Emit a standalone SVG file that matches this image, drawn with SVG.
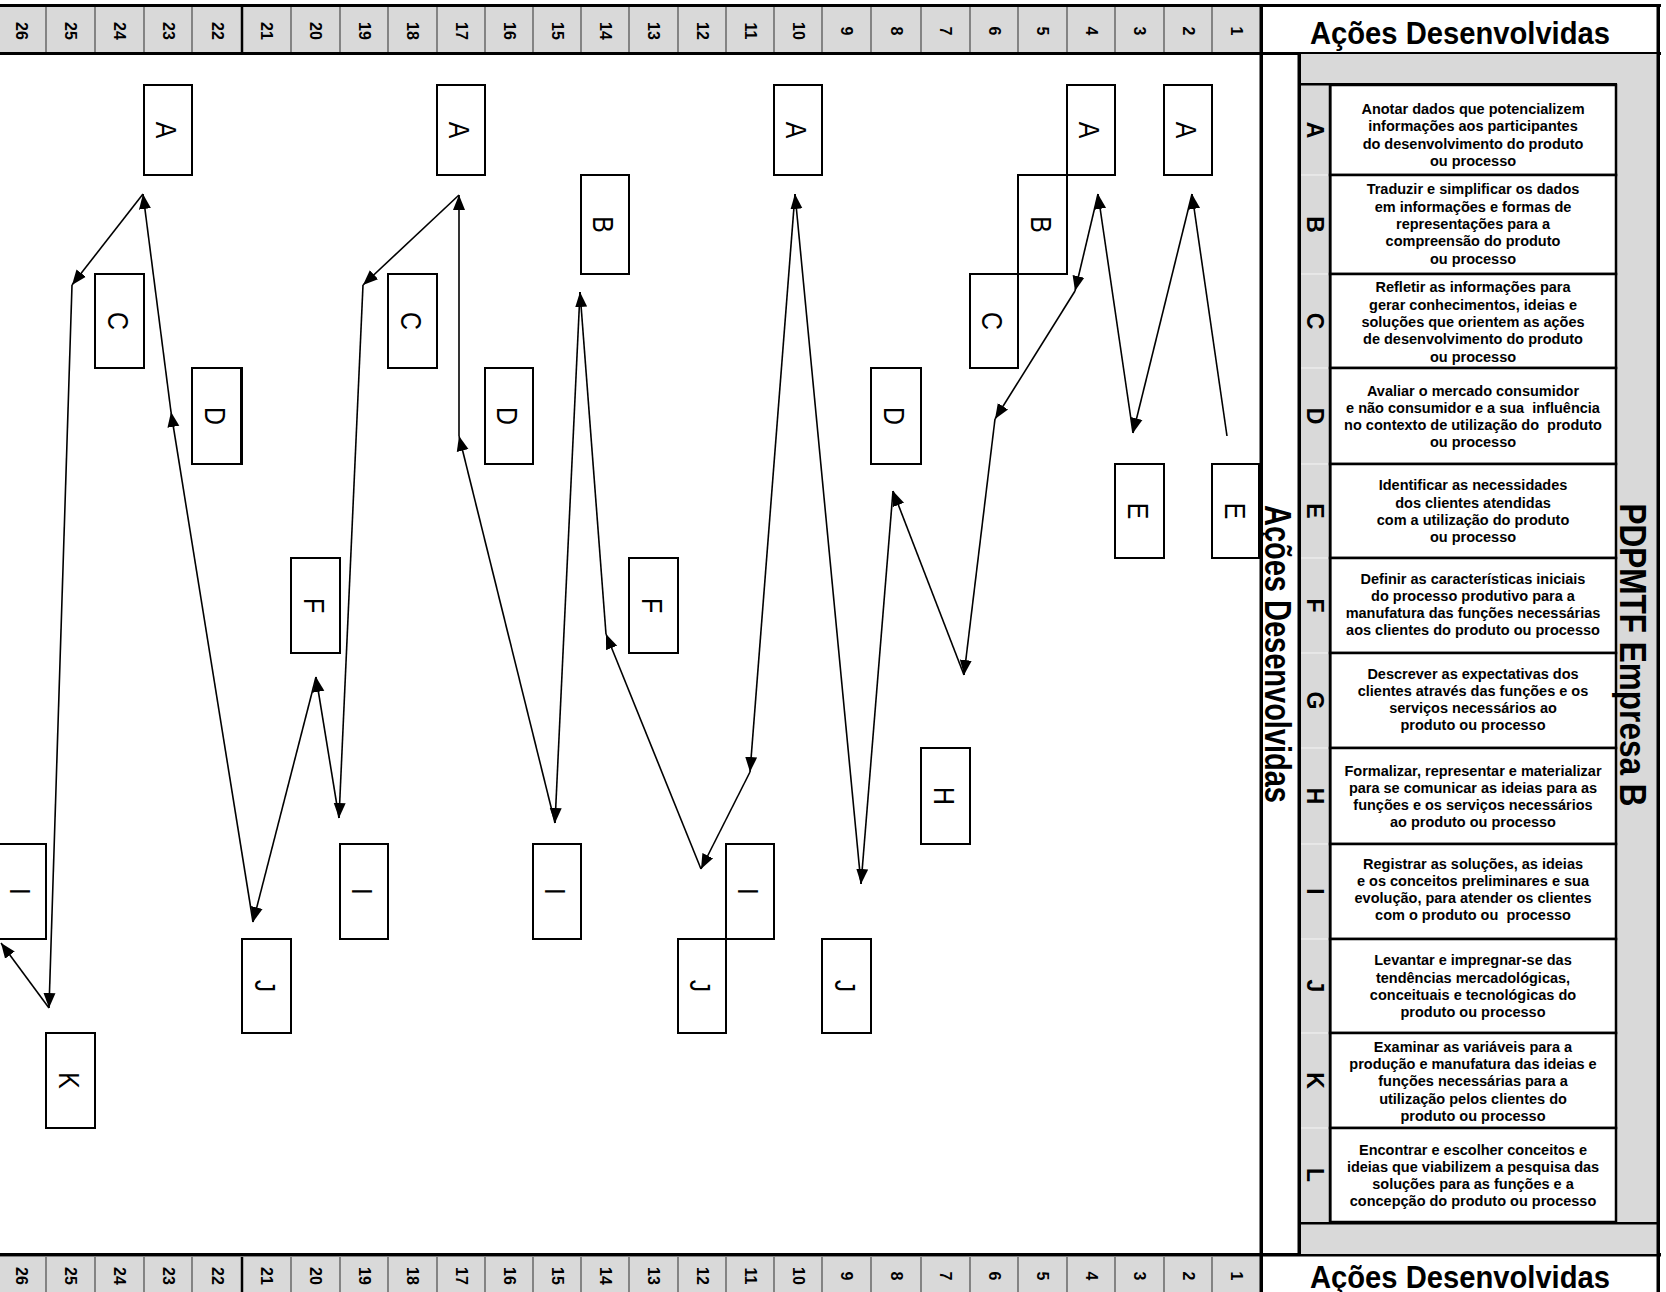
<svg xmlns="http://www.w3.org/2000/svg" width="1666" height="1292" viewBox="0 0 1666 1292">
<style>
.num{font-family:"Liberation Sans",Arial,sans-serif;font-weight:bold;font-size:16px;text-anchor:middle;fill:#000}
.sep{stroke:#555;stroke-width:1.3}
.desc{font-family:"Liberation Sans",Arial,sans-serif;font-weight:bold;font-size:14.5px;text-anchor:middle;fill:#000}
.tl{font-family:"Liberation Sans",Arial,sans-serif;font-weight:bold;font-size:23px;text-anchor:middle}
.hdr{font-family:"Liberation Sans",Arial,sans-serif;font-weight:bold;text-anchor:middle}
.cell{fill:#fff;stroke:#000;stroke-width:2.5}
.nb rect{fill:#fff;stroke:#000;stroke-width:2}
.nb text{font-family:"Liberation Sans",Arial,sans-serif;font-size:30px;text-anchor:middle}
#connectors line{stroke:#000;stroke-width:1.6;marker-end:url(#ah)}
</style>
<defs>
<marker id="ah" markerWidth="16" markerHeight="14" refX="15" refY="7" orient="auto" markerUnits="userSpaceOnUse"><path d="M0,1 L15,7 L0,13 Z" fill="#000"/></marker>
</defs>
<rect x="0" y="0" width="1666" height="1292" fill="#fff"/>

<!-- top bar -->
<g id="topbar">
<rect x="-3" y="6" width="1264" height="47" fill="#d9d9d9"/>
<g class="sep">
<line x1="1212" y1="7" x2="1212" y2="52"/><line x1="1164" y1="7" x2="1164" y2="52"/><line x1="1115" y1="7" x2="1115" y2="52"/><line x1="1067" y1="7" x2="1067" y2="52"/><line x1="1018" y1="7" x2="1018" y2="52"/><line x1="970" y1="7" x2="970" y2="52"/><line x1="921" y1="7" x2="921" y2="52"/><line x1="871" y1="7" x2="871" y2="52"/><line x1="822" y1="7" x2="822" y2="52"/><line x1="774" y1="7" x2="774" y2="52"/><line x1="726" y1="7" x2="726" y2="52"/><line x1="678" y1="7" x2="678" y2="52"/><line x1="629" y1="7" x2="629" y2="52"/><line x1="581" y1="7" x2="581" y2="52"/><line x1="533" y1="7" x2="533" y2="52"/><line x1="485" y1="7" x2="485" y2="52"/><line x1="437" y1="7" x2="437" y2="52"/><line x1="388" y1="7" x2="388" y2="52"/><line x1="340" y1="7" x2="340" y2="52"/><line x1="291" y1="7" x2="291" y2="52"/><line x1="192" y1="7" x2="192" y2="52"/><line x1="144" y1="7" x2="144" y2="52"/><line x1="95" y1="7" x2="95" y2="52"/><line x1="46" y1="7" x2="46" y2="52"/>
</g>
<line x1="242" y1="7" x2="242" y2="52" stroke="#000" stroke-width="2.5"/>
<rect x="0" y="4" width="1661" height="3" fill="#000"/>
<rect x="0" y="52" width="1661" height="3" fill="#000"/>
<g class="num">
<text transform="translate(1231,31) rotate(90)">1</text><text transform="translate(1182.5,31) rotate(90)">2</text><text transform="translate(1134,31) rotate(90)">3</text><text transform="translate(1085.5,31) rotate(90)">4</text><text transform="translate(1037,31) rotate(90)">5</text><text transform="translate(988.5,31) rotate(90)">6</text><text transform="translate(940,31) rotate(90)">7</text><text transform="translate(890.5,31) rotate(90)">8</text><text transform="translate(841,31) rotate(90)">9</text><text transform="translate(792.5,31) rotate(90)">10</text><text transform="translate(744.5,31) rotate(90)">11</text><text transform="translate(696.5,31) rotate(90)">12</text><text transform="translate(648,31) rotate(90)">13</text><text transform="translate(599.5,31) rotate(90)">14</text><text transform="translate(551.5,31) rotate(90)">15</text><text transform="translate(503.5,31) rotate(90)">16</text><text transform="translate(455.5,31) rotate(90)">17</text><text transform="translate(407,31) rotate(90)">18</text><text transform="translate(358.5,31) rotate(90)">19</text><text transform="translate(310,31) rotate(90)">20</text><text transform="translate(261,31) rotate(90)">21</text><text transform="translate(211.5,31) rotate(90)">22</text><text transform="translate(162.5,31) rotate(90)">23</text><text transform="translate(114,31) rotate(90)">24</text><text transform="translate(65,31) rotate(90)">25</text><text transform="translate(16,31) rotate(90)">26</text>
</g>
</g>

<!-- bottom bar -->
<g id="bottombar">
<rect x="-3" y="1257" width="1264" height="40" fill="#d9d9d9"/>
<g class="sep">
<line x1="1212" y1="1257" x2="1212" y2="1292"/><line x1="1164" y1="1257" x2="1164" y2="1292"/><line x1="1115" y1="1257" x2="1115" y2="1292"/><line x1="1067" y1="1257" x2="1067" y2="1292"/><line x1="1018" y1="1257" x2="1018" y2="1292"/><line x1="970" y1="1257" x2="970" y2="1292"/><line x1="921" y1="1257" x2="921" y2="1292"/><line x1="871" y1="1257" x2="871" y2="1292"/><line x1="822" y1="1257" x2="822" y2="1292"/><line x1="774" y1="1257" x2="774" y2="1292"/><line x1="726" y1="1257" x2="726" y2="1292"/><line x1="678" y1="1257" x2="678" y2="1292"/><line x1="629" y1="1257" x2="629" y2="1292"/><line x1="581" y1="1257" x2="581" y2="1292"/><line x1="533" y1="1257" x2="533" y2="1292"/><line x1="485" y1="1257" x2="485" y2="1292"/><line x1="437" y1="1257" x2="437" y2="1292"/><line x1="388" y1="1257" x2="388" y2="1292"/><line x1="340" y1="1257" x2="340" y2="1292"/><line x1="291" y1="1257" x2="291" y2="1292"/><line x1="192" y1="1257" x2="192" y2="1292"/><line x1="144" y1="1257" x2="144" y2="1292"/><line x1="95" y1="1257" x2="95" y2="1292"/><line x1="46" y1="1257" x2="46" y2="1292"/>
</g>
<line x1="242" y1="1257" x2="242" y2="1292" stroke="#000" stroke-width="2.5"/>
<rect x="0" y="1253" width="1661" height="3.5" fill="#000"/>
<g class="num">
<text transform="translate(1231,1276) rotate(90)">1</text><text transform="translate(1182.5,1276) rotate(90)">2</text><text transform="translate(1134,1276) rotate(90)">3</text><text transform="translate(1085.5,1276) rotate(90)">4</text><text transform="translate(1037,1276) rotate(90)">5</text><text transform="translate(988.5,1276) rotate(90)">6</text><text transform="translate(940,1276) rotate(90)">7</text><text transform="translate(890.5,1276) rotate(90)">8</text><text transform="translate(841,1276) rotate(90)">9</text><text transform="translate(792.5,1276) rotate(90)">10</text><text transform="translate(744.5,1276) rotate(90)">11</text><text transform="translate(696.5,1276) rotate(90)">12</text><text transform="translate(648,1276) rotate(90)">13</text><text transform="translate(599.5,1276) rotate(90)">14</text><text transform="translate(551.5,1276) rotate(90)">15</text><text transform="translate(503.5,1276) rotate(90)">16</text><text transform="translate(455.5,1276) rotate(90)">17</text><text transform="translate(407,1276) rotate(90)">18</text><text transform="translate(358.5,1276) rotate(90)">19</text><text transform="translate(310,1276) rotate(90)">20</text><text transform="translate(261,1276) rotate(90)">21</text><text transform="translate(211.5,1276) rotate(90)">22</text><text transform="translate(162.5,1276) rotate(90)">23</text><text transform="translate(114,1276) rotate(90)">24</text><text transform="translate(65,1276) rotate(90)">25</text><text transform="translate(16,1276) rotate(90)">26</text>
</g>
</g>

<!-- right panel -->
<g id="panel">
<rect x="1300" y="54" width="358" height="1200" fill="#d9d9d9"/>
<rect x="1299" y="83" width="318" height="2.5" fill="#000"/>
<rect x="1299" y="1222" width="359" height="2.5" fill="#000"/>
<g stroke="#f4f4f4" stroke-width="1">
<line x1="1301" y1="175" x2="1329" y2="175"/><line x1="1301" y1="274" x2="1329" y2="274"/><line x1="1301" y1="368" x2="1329" y2="368"/><line x1="1301" y1="464" x2="1329" y2="464"/><line x1="1301" y1="558" x2="1329" y2="558"/><line x1="1301" y1="653" x2="1329" y2="653"/><line x1="1301" y1="748" x2="1329" y2="748"/><line x1="1301" y1="844" x2="1329" y2="844"/><line x1="1301" y1="939" x2="1329" y2="939"/><line x1="1301" y1="1033" x2="1329" y2="1033"/><line x1="1301" y1="1128" x2="1329" y2="1128"/>
</g>
<rect class="cell" x="1330" y="85" width="286" height="90"/>
<rect class="cell" x="1330" y="175" width="286" height="99"/>
<rect class="cell" x="1330" y="274" width="286" height="94"/>
<rect class="cell" x="1330" y="368" width="286" height="96"/>
<rect class="cell" x="1330" y="464" width="286" height="94"/>
<rect class="cell" x="1330" y="558" width="286" height="95"/>
<rect class="cell" x="1330" y="653" width="286" height="95"/>
<rect class="cell" x="1330" y="748" width="286" height="96"/>
<rect class="cell" x="1330" y="844" width="286" height="95"/>
<rect class="cell" x="1330" y="939" width="286" height="94"/>
<rect class="cell" x="1330" y="1033" width="286" height="95"/>
<rect class="cell" x="1330" y="1128" width="286" height="94"/>
<g class="tl">
<text transform="translate(1307,130) rotate(90)">A</text>
<text transform="translate(1307,224.5) rotate(90)">B</text>
<text transform="translate(1307,321) rotate(90)">C</text>
<text transform="translate(1307,416) rotate(90)">D</text>
<text transform="translate(1307,511) rotate(90)">E</text>
<text transform="translate(1307,605.5) rotate(90)">F</text>
<text transform="translate(1307,700.5) rotate(90)">G</text>
<text transform="translate(1307,796) rotate(90)">H</text>
<text transform="translate(1307,891.5) rotate(90)">I</text>
<text transform="translate(1307,986) rotate(90)">J</text>
<text transform="translate(1307,1080.5) rotate(90)">K</text>
<text transform="translate(1307,1175) rotate(90)">L</text>
</g>
<g class="desc">
<text x="1473" y="114"><tspan x="1473">Anotar dados que potencializem</tspan><tspan x="1473" dy="17.3">informações aos participantes</tspan><tspan x="1473" dy="17.3">do desenvolvimento do produto</tspan><tspan x="1473" dy="17.3">ou processo</tspan></text>
<text x="1473" y="194.4"><tspan x="1473">Traduzir e simplificar os dados</tspan><tspan x="1473" dy="17.3">em informações e formas de</tspan><tspan x="1473" dy="17.3">representações para a</tspan><tspan x="1473" dy="17.3">compreensão do produto</tspan><tspan x="1473" dy="17.3">ou processo</tspan></text>
<text x="1473" y="292.4"><tspan x="1473">Refletir as informações para</tspan><tspan x="1473" dy="17.3">gerar conhecimentos, ideias e</tspan><tspan x="1473" dy="17.3">soluções que orientem as ações</tspan><tspan x="1473" dy="17.3">de desenvolvimento do produto</tspan><tspan x="1473" dy="17.3">ou processo</tspan></text>
<text x="1473" y="395.5" xml:space="preserve"><tspan x="1473">Avaliar o mercado consumidor</tspan><tspan x="1473" dy="17.3">e não consumidor e a sua  influência</tspan><tspan x="1473" dy="17.3">no contexto de utilização do  produto</tspan><tspan x="1473" dy="17.3">ou processo</tspan></text>
<text x="1473" y="490.2"><tspan x="1473">Identificar as necessidades</tspan><tspan x="1473" dy="17.3">dos clientes atendidas</tspan><tspan x="1473" dy="17.3">com a utilização do produto</tspan><tspan x="1473" dy="17.3">ou processo</tspan></text>
<text x="1473" y="583.5"><tspan x="1473">Definir as características iniciais</tspan><tspan x="1473" dy="17.3">do processo produtivo para a</tspan><tspan x="1473" dy="17.3">manufatura das funções necessárias</tspan><tspan x="1473" dy="17.3">aos clientes do produto ou processo</tspan></text>
<text x="1473" y="678.5"><tspan x="1473">Descrever as expectativas dos</tspan><tspan x="1473" dy="17.3">clientes através das funções e os</tspan><tspan x="1473" dy="17.3">serviços necessários ao</tspan><tspan x="1473" dy="17.3">produto ou processo</tspan></text>
<text x="1473" y="775.5"><tspan x="1473">Formalizar, representar e materializar</tspan><tspan x="1473" dy="17.3">para se comunicar as ideias para as</tspan><tspan x="1473" dy="17.3">funções e os serviços necessários</tspan><tspan x="1473" dy="17.3">ao produto ou processo</tspan></text>
<text x="1473" y="868.5" xml:space="preserve"><tspan x="1473">Registrar as soluções, as ideias</tspan><tspan x="1473" dy="17.3">e os conceitos preliminares e sua</tspan><tspan x="1473" dy="17.3">evolução, para atender os clientes</tspan><tspan x="1473" dy="17.3">com o produto ou  processo</tspan></text>
<text x="1473" y="965.2"><tspan x="1473">Levantar e impregnar-se das</tspan><tspan x="1473" dy="17.3">tendências mercadológicas,</tspan><tspan x="1473" dy="17.3">conceituais e tecnológicas do</tspan><tspan x="1473" dy="17.3">produto ou processo</tspan></text>
<text x="1473" y="1051.6"><tspan x="1473">Examinar as variáveis para a</tspan><tspan x="1473" dy="17.3">produção e manufatura das ideias e</tspan><tspan x="1473" dy="17.3">funções necessárias para a</tspan><tspan x="1473" dy="17.3">utilização pelos clientes do</tspan><tspan x="1473" dy="17.3">produto ou processo</tspan></text>
<text x="1473" y="1154.5"><tspan x="1473">Encontrar e escolher conceitos e</tspan><tspan x="1473" dy="17.3">ideias que viabilizem a pesquisa das</tspan><tspan x="1473" dy="17.3">soluções para as funções e a</tspan><tspan x="1473" dy="17.3">concepção do produto ou processo</tspan></text>
</g>
<text class="hdr" transform="translate(1620,655) rotate(90)" font-size="37" textLength="303" lengthAdjust="spacingAndGlyphs">PDPMTF Empresa B</text>
<text class="hdr" transform="translate(1265,654) rotate(90)" font-size="36" textLength="298" lengthAdjust="spacingAndGlyphs">Ações Desenvolvidas</text>
<text class="hdr" x="1460" y="44" font-size="32" textLength="300" lengthAdjust="spacingAndGlyphs">Ações Desenvolvidas</text>
<text class="hdr" x="1460" y="1288" font-size="32" textLength="300" lengthAdjust="spacingAndGlyphs">Ações Desenvolvidas</text>
<rect x="1259.5" y="4" width="3.5" height="1288" fill="#000"/>
<rect x="1297.5" y="53" width="3.5" height="1202" fill="#000"/>
<rect x="1656.5" y="4" width="3.5" height="1288" fill="#000"/>
<rect x="1329" y="85" width="2.5" height="1137" fill="#000"/>
</g>

<!-- nodes -->
<g id="n1" class="nb"><rect x="1212" y="464" width="47" height="94"/><text transform="translate(1224.5,511) rotate(90) scale(0.83,1)">E</text></g>
<g id="n2" class="nb"><rect x="1164" y="85" width="48" height="90"/><text transform="translate(1176,130) rotate(90) scale(0.83,1)">A</text></g>
<g id="n3" class="nb"><rect x="1115" y="464" width="49" height="94"/><text transform="translate(1127.5,511) rotate(90) scale(0.83,1)">E</text></g>
<g id="n4" class="nb"><rect x="1067" y="85" width="48" height="90"/><text transform="translate(1079,130) rotate(90) scale(0.83,1)">A</text></g>
<g id="n5" class="nb"><rect x="1018" y="175" width="49" height="99"/><text transform="translate(1030.5,224.5) rotate(90) scale(0.83,1)">B</text></g>
<g id="n6" class="nb"><rect x="970" y="274" width="48" height="94"/><text transform="translate(982,321) rotate(90) scale(0.83,1)">C</text></g>
<g id="n7" class="nb"><rect x="921" y="748" width="49" height="96"/><text transform="translate(933.5,796) rotate(90) scale(0.83,1)">H</text></g>
<g id="n8" class="nb"><rect x="871" y="368" width="50" height="96"/><text transform="translate(884,416) rotate(90) scale(0.83,1)">D</text></g>
<g id="n9" class="nb"><rect x="822" y="939" width="49" height="94"/><text transform="translate(834.5,986) rotate(90) scale(0.83,1)">J</text></g>
<g id="n10" class="nb"><rect x="774" y="85" width="48" height="90"/><text transform="translate(786,130) rotate(90) scale(0.83,1)">A</text></g>
<g id="n11" class="nb"><rect x="726" y="844" width="48" height="95"/><text transform="translate(738,891.5) rotate(90) scale(0.83,1)">I</text></g>
<g id="n12" class="nb"><rect x="678" y="939" width="48" height="94"/><text transform="translate(690,986) rotate(90) scale(0.83,1)">J</text></g>
<g id="n13" class="nb"><rect x="629" y="558" width="49" height="95"/><text transform="translate(641.5,605.5) rotate(90) scale(0.83,1)">F</text></g>
<g id="n14" class="nb"><rect x="581" y="175" width="48" height="99"/><text transform="translate(593,224.5) rotate(90) scale(0.83,1)">B</text></g>
<g id="n15" class="nb"><rect x="533" y="844" width="48" height="95"/><text transform="translate(545,891.5) rotate(90) scale(0.83,1)">I</text></g>
<g id="n16" class="nb"><rect x="485" y="368" width="48" height="96"/><text transform="translate(497,416) rotate(90) scale(0.83,1)">D</text></g>
<g id="n17" class="nb"><rect x="437" y="85" width="48" height="90"/><text transform="translate(449,130) rotate(90) scale(0.83,1)">A</text></g>
<g id="n18" class="nb"><rect x="388" y="274" width="49" height="94"/><text transform="translate(400.5,321) rotate(90) scale(0.83,1)">C</text></g>
<g id="n19" class="nb"><rect x="340" y="844" width="48" height="95"/><text transform="translate(352,891.5) rotate(90) scale(0.83,1)">I</text></g>
<g id="n20" class="nb"><rect x="291" y="558" width="49" height="95"/><text transform="translate(303.5,605.5) rotate(90) scale(0.83,1)">F</text></g>
<g id="n21" class="nb"><rect x="242" y="939" width="49" height="94"/><text transform="translate(254.5,986) rotate(90) scale(0.83,1)">J</text></g>
<g id="n22" class="nb"><rect x="192" y="368" width="50" height="96"/><line x1="241.5" y1="368" x2="241.5" y2="464" stroke="#000" stroke-width="3"/><text transform="translate(205,416) rotate(90) scale(0.83,1)">D</text></g>
<g id="n23" class="nb"><rect x="144" y="85" width="48" height="90"/><text transform="translate(156,130) rotate(90) scale(0.83,1)">A</text></g>
<g id="n24" class="nb"><rect x="95" y="274" width="49" height="94"/><text transform="translate(107.5,321) rotate(90) scale(0.83,1)">C</text></g>
<g id="n25" class="nb"><rect x="46" y="1033" width="49" height="95"/><text transform="translate(58.5,1080.5) rotate(90) scale(0.83,1)">K</text></g>
<g id="n26" class="nb"><rect x="-3" y="844" width="49" height="95"/><text transform="translate(9.5,891.5) rotate(90) scale(0.83,1)">I</text></g>

<!-- connectors -->
<g id="connectors">
<line x1="1227" y1="436" x2="1192" y2="194"/>
<line x1="1192" y1="194" x2="1133" y2="433"/>
<line x1="1133" y1="433" x2="1098" y2="194"/>
<line x1="1098" y1="194" x2="1075" y2="291"/>
<line x1="1075" y1="291" x2="995" y2="419"/>
<line x1="995" y1="419" x2="964" y2="675"/>
<line x1="964" y1="675" x2="893" y2="491"/>
<line x1="893" y1="491" x2="861" y2="884"/>
<line x1="861" y1="884" x2="795" y2="194"/>
<line x1="795" y1="194" x2="750" y2="772"/>
<line x1="750" y1="772" x2="701" y2="869"/>
<line x1="701" y1="869" x2="606" y2="634"/>
<line x1="606" y1="634" x2="580" y2="292"/>
<line x1="580" y1="292" x2="555" y2="823"/>
<line x1="555" y1="823" x2="459" y2="436"/>
<line x1="459" y1="436" x2="459" y2="195"/>
<line x1="459" y1="195" x2="363" y2="285"/>
<line x1="363" y1="285" x2="339" y2="818"/>
<line x1="339" y1="818" x2="316" y2="677"/>
<line x1="316" y1="677" x2="253" y2="922"/>
<line x1="253" y1="922" x2="171" y2="412"/>
<line x1="171" y1="412" x2="143" y2="194"/>
<line x1="143" y1="194" x2="72" y2="285"/>
<line x1="72" y1="285" x2="49" y2="1008"/>
<line x1="49" y1="1008" x2="1" y2="943"/>
</g>
</svg>
